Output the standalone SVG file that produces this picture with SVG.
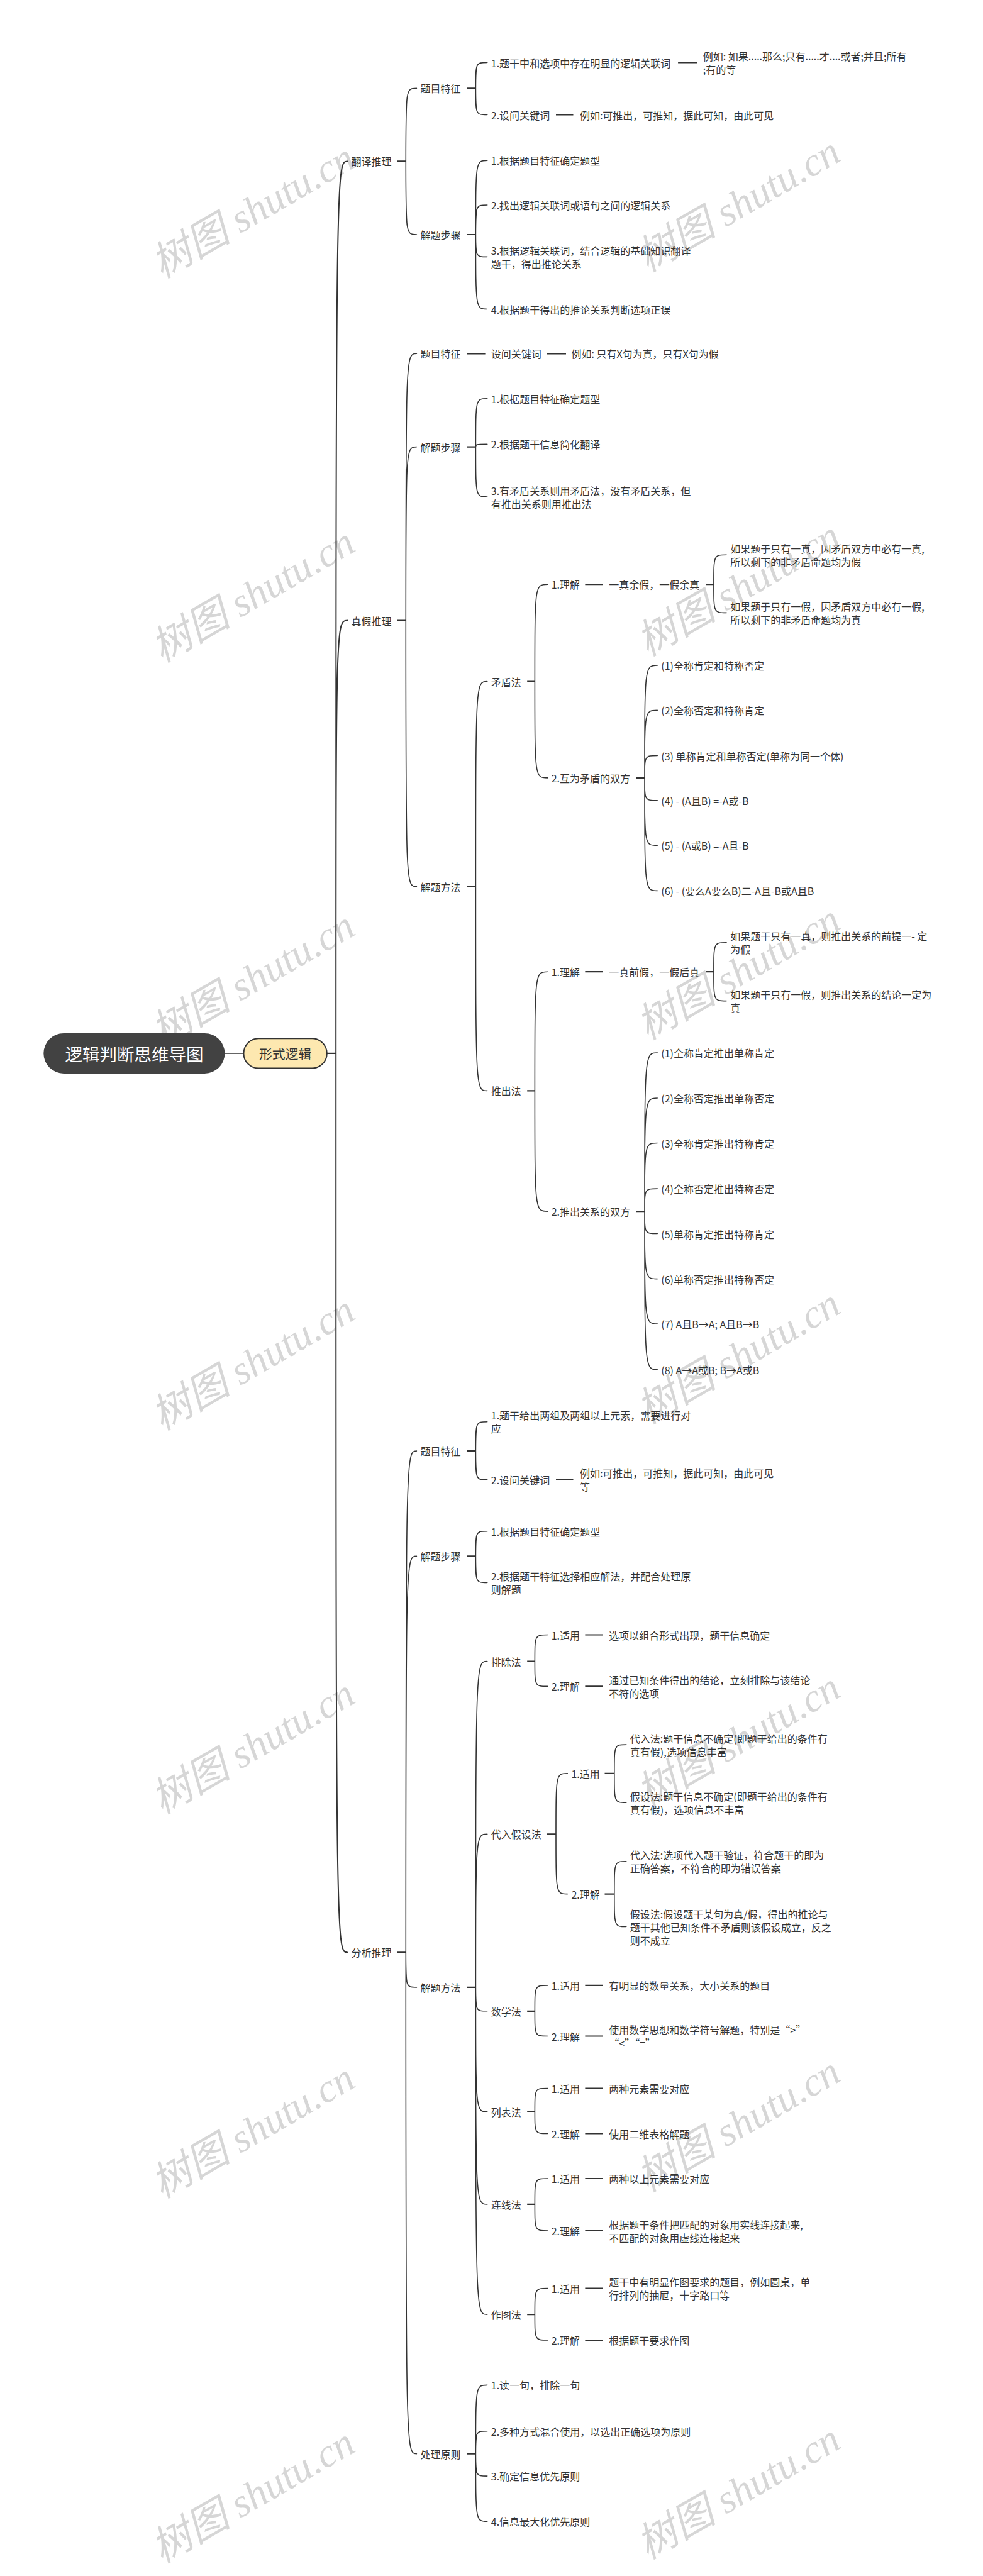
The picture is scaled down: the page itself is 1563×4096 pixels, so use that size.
<svg xmlns="http://www.w3.org/2000/svg" width="1563" height="4096" viewBox="0 0 1563 4096">
<style>
.t{font-family:"Noto Sans CJK SC","Noto Sans",sans-serif;font-size:16px;fill:#333;dominant-baseline:central}
.c{fill:none;stroke:#333;stroke-width:1.6;stroke-linecap:round}
.tl{fill:none;stroke:#333;stroke-width:2.2}
.wm{font-family:"Liberation Serif","Noto Sans CJK SC",serif;font-style:italic;font-size:64px;fill:#d6d6d6;text-anchor:middle;dominant-baseline:central}
</style>
<rect width="1563" height="4096" fill="#fff"/>
<g id="watermarks">
<text class="wm" transform="translate(402,335) rotate(-30)">树图 shutu.cn</text>
<text class="wm" transform="translate(1174,325) rotate(-30)">树图 shutu.cn</text>
<text class="wm" transform="translate(402,946) rotate(-30)">树图 shutu.cn</text>
<text class="wm" transform="translate(1174,936) rotate(-30)">树图 shutu.cn</text>
<text class="wm" transform="translate(402,1556) rotate(-30)">树图 shutu.cn</text>
<text class="wm" transform="translate(1174,1546) rotate(-30)">树图 shutu.cn</text>
<text class="wm" transform="translate(402,2167) rotate(-30)">树图 shutu.cn</text>
<text class="wm" transform="translate(1174,2157) rotate(-30)">树图 shutu.cn</text>
<text class="wm" transform="translate(402,2777) rotate(-30)">树图 shutu.cn</text>
<text class="wm" transform="translate(1174,2767) rotate(-30)">树图 shutu.cn</text>
<text class="wm" transform="translate(402,3388) rotate(-30)">树图 shutu.cn</text>
<text class="wm" transform="translate(1174,3378) rotate(-30)">树图 shutu.cn</text>
<text class="wm" transform="translate(402,3968) rotate(-30)">树图 shutu.cn</text>
<text class="wm" transform="translate(1174,3962) rotate(-30)">树图 shutu.cn</text>
</g>
<g id="connectors">
<path class="c" d="M357.4 1674.9H387.4"/>
<path class="tl" d="M519.8 1674.9H534.2"/>
<path class="c" style="stroke-width:2" d="M534.2 1674.9C534.2 256.4 534.2 256.4 552.5 256.4M534.2 1674.9C534.2 986.6 534.2 986.6 552.5 986.6M534.2 1674.9C534.2 3104.4 534.2 3104.4 552.5 3104.4"/>
<path class="tl" d="M631.9 256.4H645.3M743 140.4H756.4M1078.1 99.5H1108.1M884 182.5H911.5M743 373H756.4M631.9 986.6H645.3M743 562.3H771.6M870 562.3H900M743 710.6H756.4M743 1409.6H756.4M838.2 1083.6H850.4M930.4 929.2H958.5M1122.7 929.2H1134.9M1011.6 1236.9H1025M838.2 1734.4H850.4M930.4 1545.2H958.5M1122.7 1545.2H1134.9M1011.6 1926.1H1025M631.9 3104.4H645.3M743 2307.1H756.4M884 2352.9H911.5M743 2474.4H756.4M743 3159.9H756.4M838.2 2641.6H850.4M930.4 2599.5H958.5M930.4 2681.3H958.5M870 2916.4H884M961.5 2819.9H976.8M961.5 3011.6H976.8M838.2 3197.8H850.4M930.4 3156.9H958.5M930.4 3237.5H958.5M838.2 3357.8H850.4M930.4 3320.5H958.5M930.4 3392.5H958.5M838.2 3504.9H850.4M930.4 3464H958.5M930.4 3547H958.5M838.2 3680.1H850.4M930.4 3638.6H958.5M930.4 3721H958.5M743 3901.7H756.4"/>
<path class="c" d="M645.3 256.4C645.3 140.4 645.3 140.4 662.4 140.4M645.3 256.4C645.3 373 645.3 373 662.4 373
M756.4 140.4C756.4 99.5 756.4 99.5 774.7 99.5M756.4 140.4C756.4 182.5 756.4 182.5 774.7 182.5
M756.4 373C756.4 255.2 756.4 255.2 774.7 255.2M756.4 373C756.4 326 756.4 326 774.7 326M756.4 373C756.4 408.4 756.4 408.4 774.7 408.4M756.4 373C756.4 491.5 756.4 491.5 774.7 491.5
M645.3 986.6C645.3 562.3 645.3 562.3 662.4 562.3M645.3 986.6C645.3 710.6 645.3 710.6 662.4 710.6M645.3 986.6C645.3 1409.6 645.3 1409.6 662.4 1409.6
M756.4 710.6C756.4 633.7 756.4 633.7 774.7 633.7M756.4 710.6C756.4 706.4 756.4 706.4 774.7 706.4M756.4 710.6C756.4 790 756.4 790 774.7 790
M756.4 1409.6C756.4 1083.6 756.4 1083.6 774.7 1083.6M756.4 1409.6C756.4 1734.4 756.4 1734.4 774.7 1734.4
M850.4 1083.6C850.4 929.2 850.4 929.2 870.6 929.2M850.4 1083.6C850.4 1236.9 850.4 1236.9 870.6 1236.9
M1134.9 929.2C1134.9 882.2 1134.9 882.2 1155 882.2M1134.9 929.2C1134.9 974.4 1134.9 974.4 1155 974.4
M1025 1236.9C1025 1058 1025 1058 1045.2 1058M1025 1236.9C1025 1129.4 1025 1129.4 1045.2 1129.4M1025 1236.9C1025 1201.5 1025 1201.5 1045.2 1201.5M1025 1236.9C1025 1272.9 1025 1272.9 1045.2 1272.9M1025 1236.9C1025 1344.3 1025 1344.3 1045.2 1344.3M1025 1236.9C1025 1416.4 1025 1416.4 1045.2 1416.4
M850.4 1734.4C850.4 1545.2 850.4 1545.2 870.6 1545.2M850.4 1734.4C850.4 1926.1 850.4 1926.1 870.6 1926.1
M1134.9 1545.2C1134.9 1498.8 1134.9 1498.8 1155 1498.8M1134.9 1545.2C1134.9 1591.6 1134.9 1591.6 1155 1591.6
M1025 1926.1C1025 1674 1025 1674 1045.2 1674M1025 1926.1C1025 1746 1025 1746 1045.2 1746M1025 1926.1C1025 1817.5 1025 1817.5 1045.2 1817.5M1025 1926.1C1025 1890.1 1025 1890.1 1045.2 1890.1M1025 1926.1C1025 1961.5 1025 1961.5 1045.2 1961.5M1025 1926.1C1025 2033.6 1025 2033.6 1045.2 2033.6M1025 1926.1C1025 2105 1025 2105 1045.2 2105M1025 1926.1C1025 2177.7 1025 2177.7 1045.2 2177.7
M645.3 3104.4C645.3 2307.1 645.3 2307.1 662.4 2307.1M645.3 3104.4C645.3 2474.4 645.3 2474.4 662.4 2474.4M645.3 3104.4C645.3 3159.9 645.3 3159.9 662.4 3159.9M645.3 3104.4C645.3 3901.7 645.3 3901.7 662.4 3901.7
M756.4 2307.1C756.4 2260.7 756.4 2260.7 774.7 2260.7M756.4 2307.1C756.4 2352.9 756.4 2352.9 774.7 2352.9
M756.4 2474.4C756.4 2434.7 756.4 2434.7 774.7 2434.7M756.4 2474.4C756.4 2516.5 756.4 2516.5 774.7 2516.5
M756.4 3159.9C756.4 2641.6 756.4 2641.6 774.7 2641.6M756.4 3159.9C756.4 2916.4 756.4 2916.4 774.7 2916.4M756.4 3159.9C756.4 3197.8 756.4 3197.8 774.7 3197.8M756.4 3159.9C756.4 3357.8 756.4 3357.8 774.7 3357.8M756.4 3159.9C756.4 3504.9 756.4 3504.9 774.7 3504.9M756.4 3159.9C756.4 3680.1 756.4 3680.1 774.7 3680.1
M850.4 2641.6C850.4 2599.5 850.4 2599.5 870.6 2599.5M850.4 2641.6C850.4 2681.3 850.4 2681.3 870.6 2681.3
M884 2916.4C884 2819.9 884 2819.9 902.3 2819.9M884 2916.4C884 3011.6 884 3011.6 902.3 3011.6
M976.8 2819.9C976.8 2774.1 976.8 2774.1 995.7 2774.1M976.8 2819.9C976.8 2866.3 976.8 2866.3 995.7 2866.3
M976.8 3011.6C976.8 2959.7 976.8 2959.7 995.7 2959.7M976.8 3011.6C976.8 3063.5 976.8 3063.5 995.7 3063.5
M850.4 3197.8C850.4 3156.9 850.4 3156.9 870.6 3156.9M850.4 3197.8C850.4 3237.5 850.4 3237.5 870.6 3237.5
M850.4 3357.8C850.4 3320.5 850.4 3320.5 870.6 3320.5M850.4 3357.8C850.4 3392.5 850.4 3392.5 870.6 3392.5
M850.4 3504.9C850.4 3464 850.4 3464 870.6 3464M850.4 3504.9C850.4 3547 850.4 3547 870.6 3547
M850.4 3680.1C850.4 3638.6 850.4 3638.6 870.6 3638.6M850.4 3680.1C850.4 3721 850.4 3721 870.6 3721
M756.4 3901.7C756.4 3792.4 756.4 3792.4 774.7 3792.4M756.4 3901.7C756.4 3865.7 756.4 3865.7 774.7 3865.7M756.4 3901.7C756.4 3937.1 756.4 3937.1 774.7 3937.1M756.4 3901.7C756.4 4009.2 756.4 4009.2 774.7 4009.2"/>
</g>
<g id="n-root"><rect x="69.3" y="1642.9" width="288.1" height="64" rx="32" fill="#424242"/><text x="213.4" y="1675" text-anchor="middle" style="font-family:'Noto Sans CJK SC',sans-serif;font-size:27.5px;fill:#fff;dominant-baseline:central">逻辑判断思维导图</text></g>
<g id="n-xsl"><rect x="387.4" y="1651.2" width="132.4" height="47.4" rx="23.7" fill="#fde8b0" stroke="#333" stroke-width="2"/><text x="453.6" y="1675" text-anchor="middle" style="font-family:'Noto Sans CJK SC',sans-serif;font-size:20.8px;fill:#333;dominant-baseline:central">形式逻辑</text></g>
<g id="n-fy"><text class="t" x="558.6" y="256.4">翻译推理</text></g>
<g id="n-fy-tz"><text class="t" x="668.5" y="140.4">题目特征</text></g>
<g id="n-fy-tz-1"><text class="t" x="780.8" y="99.5">1.题干中和选项中存在明显的逻辑关联词</text></g>
<g id="n-fy-tz-1a"><text class="t" x="1117.8" y="89"><tspan x="1117.8">例如: 如果.....那么;只有.....才....或者;并且;所有</tspan><tspan x="1117.8" dy="21">;有的等</tspan></text></g>
<g id="n-fy-tz-2"><text class="t" x="780.8" y="182.5">2.设问关键词</text></g>
<g id="n-fy-tz-2a"><text class="t" x="921.9" y="182.5">例如:可推出，可推知，据此可知，由此可见</text></g>
<g id="n-fy-bz"><text class="t" x="668.5" y="373">解题步骤</text></g>
<g id="n-fy-bz-1"><text class="t" x="780.8" y="255.2">1.根据题目特征确定题型</text></g>
<g id="n-fy-bz-2"><text class="t" x="780.8" y="326">2.找出逻辑关联词或语句之间的逻辑关系</text></g>
<g id="n-fy-bz-3"><text class="t" x="780.8" y="397.9"><tspan x="780.8">3.根据逻辑关联词，结合逻辑的基础知识翻译</tspan><tspan x="780.8" dy="21">题干，得出推论关系</tspan></text></g>
<g id="n-fy-bz-4"><text class="t" x="780.8" y="491.5">4.根据题干得出的推论关系判断选项正误</text></g>
<g id="n-zj"><text class="t" x="558.6" y="986.6">真假推理</text></g>
<g id="n-zj-tz"><text class="t" x="668.5" y="562.3">题目特征</text></g>
<g id="n-zj-tz-1"><text class="t" x="780.8" y="562.3">设问关键词</text></g>
<g id="n-zj-tz-1a"><text class="t" x="908.4" y="562.3">例如: 只有X句为真，只有X句为假</text></g>
<g id="n-zj-bz"><text class="t" x="668.5" y="710.6">解题步骤</text></g>
<g id="n-zj-bz-1"><text class="t" x="780.8" y="633.7">1.根据题目特征确定题型</text></g>
<g id="n-zj-bz-2"><text class="t" x="780.8" y="706.4">2.根据题干信息简化翻译</text></g>
<g id="n-zj-bz-3"><text class="t" x="780.8" y="779.5"><tspan x="780.8">3.有矛盾关系则用矛盾法，没有矛盾关系，但</tspan><tspan x="780.8" dy="21">有推出关系则用推出法</tspan></text></g>
<g id="n-zj-ff"><text class="t" x="668.5" y="1409.6">解题方法</text></g>
<g id="n-md"><text class="t" x="780.8" y="1083.6">矛盾法</text></g>
<g id="n-md-1"><text class="t" x="876.7" y="929.2">1.理解</text></g>
<g id="n-md-1a"><text class="t" x="968.3" y="929.2">一真余假，一假余真</text></g>
<g id="n-md-1a1"><text class="t" x="1161.2" y="871.7"><tspan x="1161.2">如果题于只有一真，因矛盾双方中必有一真,</tspan><tspan x="1161.2" dy="21">所以剩下的非矛盾命题均为假</tspan></text></g>
<g id="n-md-1a2"><text class="t" x="1161.2" y="963.9"><tspan x="1161.2">如果题于只有一假，因矛盾双方中必有一假,</tspan><tspan x="1161.2" dy="21">所以剩下的非矛盾命题均为真</tspan></text></g>
<g id="n-md-2"><text class="t" x="876.7" y="1236.9">2.互为矛盾的双方</text></g>
<g id="n-md-2-1"><text class="t" x="1051.3" y="1058">(1)全称肯定和特称否定</text></g>
<g id="n-md-2-2"><text class="t" x="1051.3" y="1129.4">(2)全称否定和特称肯定</text></g>
<g id="n-md-2-3"><text class="t" x="1051.3" y="1201.5">(3) 单称肯定和单称否定(单称为同一个体)</text></g>
<g id="n-md-2-4"><text class="t" x="1051.3" y="1272.9">(4) - (A且B) =-A或-B</text></g>
<g id="n-md-2-5"><text class="t" x="1051.3" y="1344.3">(5) - (A或B) =-A且-B</text></g>
<g id="n-md-2-6"><text class="t" x="1051.3" y="1416.4">(6) - (要么A要么B)二-A且-B或A且B</text></g>
<g id="n-tc"><text class="t" x="780.8" y="1734.4">推出法</text></g>
<g id="n-tc-1"><text class="t" x="876.7" y="1545.2">1.理解</text></g>
<g id="n-tc-1a"><text class="t" x="968.3" y="1545.2">一真前假，一假后真</text></g>
<g id="n-tc-1a1"><text class="t" x="1161.2" y="1488.3"><tspan x="1161.2">如果题干只有一真，则推出关系的前提一- 定</tspan><tspan x="1161.2" dy="21">为假</tspan></text></g>
<g id="n-tc-1a2"><text class="t" x="1161.2" y="1581.1"><tspan x="1161.2">如果题干只有一假，则推出关系的结论一定为</tspan><tspan x="1161.2" dy="21">真</tspan></text></g>
<g id="n-tc-2"><text class="t" x="876.7" y="1926.1">2.推出关系的双方</text></g>
<g id="n-tc-2-1"><text class="t" x="1051.3" y="1674">(1)全称肯定推出单称肯定</text></g>
<g id="n-tc-2-2"><text class="t" x="1051.3" y="1746">(2)全称否定推出单称否定</text></g>
<g id="n-tc-2-3"><text class="t" x="1051.3" y="1817.5">(3)全称肯定推出特称肯定</text></g>
<g id="n-tc-2-4"><text class="t" x="1051.3" y="1890.1">(4)全称否定推出特称否定</text></g>
<g id="n-tc-2-5"><text class="t" x="1051.3" y="1961.5">(5)单称肯定推出特称肯定</text></g>
<g id="n-tc-2-6"><text class="t" x="1051.3" y="2033.6">(6)单称否定推出特称否定</text></g>
<g id="n-tc-2-7"><text class="t" x="1051.3" y="2105">(7) A且B→A; A且B→B</text></g>
<g id="n-tc-2-8"><text class="t" x="1051.3" y="2177.7">(8) A→A或B; B→A或B</text></g>
<g id="n-fx"><text class="t" x="558.6" y="3104.4">分析推理</text></g>
<g id="n-fx-tz"><text class="t" x="668.5" y="2307.1">题目特征</text></g>
<g id="n-fx-tz-1"><text class="t" x="780.8" y="2250.2"><tspan x="780.8">1.题干给出两组及两组以上元素，需要进行对</tspan><tspan x="780.8" dy="21">应</tspan></text></g>
<g id="n-fx-tz-2"><text class="t" x="780.8" y="2352.9">2.设问关键词</text></g>
<g id="n-fx-tz-2a"><text class="t" x="921.9" y="2342.4"><tspan x="921.9">例如:可推出，可推知，据此可知，由此可见</tspan><tspan x="921.9" dy="21">等</tspan></text></g>
<g id="n-fx-bz"><text class="t" x="668.5" y="2474.4">解题步骤</text></g>
<g id="n-fx-bz-1"><text class="t" x="780.8" y="2434.7">1.根据题目特征确定题型</text></g>
<g id="n-fx-bz-2"><text class="t" x="780.8" y="2506"><tspan x="780.8">2.根据题干特征选择相应解法，并配合处理原</tspan><tspan x="780.8" dy="21">则解题</tspan></text></g>
<g id="n-fx-ff"><text class="t" x="668.5" y="3159.9">解题方法</text></g>
<g id="n-pc"><text class="t" x="780.8" y="2641.6">排除法</text></g>
<g id="n-pc-1"><text class="t" x="876.7" y="2599.5">1.适用</text></g>
<g id="n-pc-1a"><text class="t" x="968.3" y="2599.5">选项以组合形式出现，题干信息确定</text></g>
<g id="n-pc-2"><text class="t" x="876.7" y="2681.3">2.理解</text></g>
<g id="n-pc-2a"><text class="t" x="968.3" y="2670.8"><tspan x="968.3">通过已知条件得出的结论，立刻排除与该结论</tspan><tspan x="968.3" dy="21">不符的选项</tspan></text></g>
<g id="n-dr"><text class="t" x="780.8" y="2916.4">代入假设法</text></g>
<g id="n-dr-1"><text class="t" x="908.4" y="2819.9">1.适用</text></g>
<g id="n-dr-1a"><text class="t" x="1001.8" y="2763.6"><tspan x="1001.8">代入法:题干信息不确定(即题干给出的条件有</tspan><tspan x="1001.8" dy="21">真有假),选项信息丰富</tspan></text></g>
<g id="n-dr-1b"><text class="t" x="1001.8" y="2855.8"><tspan x="1001.8">假设法:题干信息不确定(即题干给出的条件有</tspan><tspan x="1001.8" dy="21">真有假)，选项信息不丰富</tspan></text></g>
<g id="n-dr-2"><text class="t" x="908.4" y="3011.6">2.理解</text></g>
<g id="n-dr-2a"><text class="t" x="1001.8" y="2949.2"><tspan x="1001.8">代入法:选项代入题干验证，符合题干的即为</tspan><tspan x="1001.8" dy="21">正确答案，不符合的即为错误答案</tspan></text></g>
<g id="n-dr-2b"><text class="t" x="1001.8" y="3042.5"><tspan x="1001.8">假设法:假设题干某句为真/假，得出的推论与</tspan><tspan x="1001.8" dy="21">题干其他已知条件不矛盾则该假设成立，反之</tspan><tspan x="1001.8" dy="21">则不成立</tspan></text></g>
<g id="n-sx"><text class="t" x="780.8" y="3197.8">数学法</text></g>
<g id="n-sx-1"><text class="t" x="876.7" y="3156.9">1.适用</text></g>
<g id="n-sx-1a"><text class="t" x="968.3" y="3156.9">有明显的数量关系，大小关系的题目</text></g>
<g id="n-sx-2"><text class="t" x="876.7" y="3237.5">2.理解</text></g>
<g id="n-sx-2a"><text class="t" x="968.3" y="3227"><tspan x="968.3">使用数学思想和数学符号解题，特别是“&gt;”</tspan><tspan x="968.3" dy="21">“&lt;”“=”</tspan></text></g>
<g id="n-lb"><text class="t" x="780.8" y="3357.8">列表法</text></g>
<g id="n-lb-1"><text class="t" x="876.7" y="3320.5">1.适用</text></g>
<g id="n-lb-1a"><text class="t" x="968.3" y="3320.5">两种元素需要对应</text></g>
<g id="n-lb-2"><text class="t" x="876.7" y="3392.5">2.理解</text></g>
<g id="n-lb-2a"><text class="t" x="968.3" y="3392.5">使用二维表格解题</text></g>
<g id="n-lx"><text class="t" x="780.8" y="3504.9">连线法</text></g>
<g id="n-lx-1"><text class="t" x="876.7" y="3464">1.适用</text></g>
<g id="n-lx-1a"><text class="t" x="968.3" y="3464">两种以上元素需要对应</text></g>
<g id="n-lx-2"><text class="t" x="876.7" y="3547">2.理解</text></g>
<g id="n-lx-2a"><text class="t" x="968.3" y="3536.5"><tspan x="968.3">根据题干条件把匹配的对象用实线连接起来,</tspan><tspan x="968.3" dy="21">不匹配的对象用虚线连接起来</tspan></text></g>
<g id="n-zt"><text class="t" x="780.8" y="3680.1">作图法</text></g>
<g id="n-zt-1"><text class="t" x="876.7" y="3638.6">1.适用</text></g>
<g id="n-zt-1a"><text class="t" x="968.3" y="3628.1"><tspan x="968.3">题干中有明显作图要求的题目，例如圆桌，单</tspan><tspan x="968.3" dy="21">行排列的抽屉，十字路口等</tspan></text></g>
<g id="n-zt-2"><text class="t" x="876.7" y="3721">2.理解</text></g>
<g id="n-zt-2a"><text class="t" x="968.3" y="3721">根据题干要求作图</text></g>
<g id="n-cl"><text class="t" x="668.5" y="3901.7">处理原则</text></g>
<g id="n-cl-1"><text class="t" x="780.8" y="3792.4">1.读一句，排除一句</text></g>
<g id="n-cl-2"><text class="t" x="780.8" y="3865.7">2.多种方式混合使用，以选出正确选项为原则</text></g>
<g id="n-cl-3"><text class="t" x="780.8" y="3937.1">3.确定信息优先原则</text></g>
<g id="n-cl-4"><text class="t" x="780.8" y="4009.2">4.信息最大化优先原则</text></g>
</svg>
